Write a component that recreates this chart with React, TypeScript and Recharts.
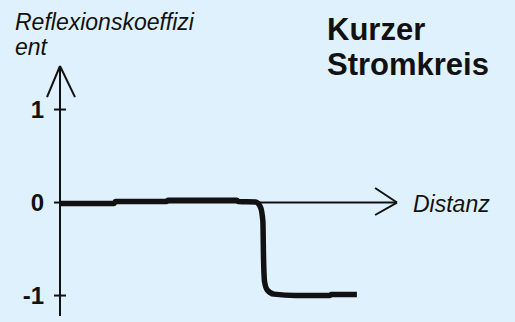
import { LineChart, Line, XAxis, YAxis, ReferenceLine } from "recharts";

const BG = "#dff1fc";
const INK = "#111111";
const FONT = '"Liberation Sans", Arial, sans-serif';

// distance (arbitrary units, 0..10) vs reflection coefficient
const distanz = [0, 1.6, 1.65, 3.15, 3.2, 5.25, 5.3, 5.8, 5.95, 6.02, 6.04, 6.07, 6.15, 6.35, 7.0, 8.0, 8.05, 8.81];
const reflexion = [-0.01, -0.01, 0.01, 0.01, 0.025, 0.025, 0.01, 0.005, -0.05, -0.2, -0.6, -0.85, -0.94, -0.985, -1.0, -1.0, -0.99, -0.99];
const yTicks = [-1, 0, 1];

// arrow heads, in data units
const yArrow = { tipX: 0, tipY: 1.468, leftX: -0.386, rightX: 0.445, armY: 1.134 };
const xArrow = { tipX: 10, tipY: 0, armX: 9.35, upY: 0.156, downY: -0.134 };

const data = distanz.map((d, i) => ({ d, r: reflexion[i] }));

function YTick(props: any) {
  const { x, y, payload } = props;
  return (
    <g>
      <line x1={x - 6} x2={x + 6} y1={y} y2={y} stroke={INK} strokeWidth={2} />
      <text x={x - 16} y={y + 8.5} textAnchor="end" fontFamily={FONT} fontWeight={700} fontSize={24} fill={INK}>
        {payload.value}
      </text>
    </g>
  );
}

export default function App() {
  return (
    <div style={{ position: "absolute", left: 0, top: 0, width: 515, height: 322, background: BG, overflow: "hidden" }}>
      <LineChart width={515} height={322} data={data} margin={{ top: 66, right: 118, bottom: 6, left: 10 }}>
        <XAxis dataKey="d" type="number" domain={[0, 10]} hide />
        <YAxis
          type="number"
          domain={[-1.22, 1.468]}
          ticks={yTicks}
          width={50}
          axisLine={{ stroke: INK, strokeWidth: 2 }}
          tickLine={false}
          tickSize={0}
          tickMargin={0}
          tick={<YTick />}
          interval={0}
        />
        <ReferenceLine y={0} stroke={INK} strokeWidth={2} />
        <ReferenceLine ifOverflow="visible" stroke={INK} strokeWidth={2}
          segment={[{ x: yArrow.leftX, y: yArrow.armY }, { x: yArrow.tipX, y: yArrow.tipY }]} />
        <ReferenceLine ifOverflow="visible" stroke={INK} strokeWidth={2}
          segment={[{ x: yArrow.rightX, y: yArrow.armY }, { x: yArrow.tipX, y: yArrow.tipY }]} />
        <ReferenceLine ifOverflow="visible" stroke={INK} strokeWidth={2}
          segment={[{ x: xArrow.armX, y: xArrow.upY }, { x: xArrow.tipX, y: xArrow.tipY }]} />
        <ReferenceLine ifOverflow="visible" stroke={INK} strokeWidth={2}
          segment={[{ x: xArrow.armX, y: xArrow.downY }, { x: xArrow.tipX, y: xArrow.tipY }]} />
        <Line
          type="monotone"
          dataKey="r"
          stroke={INK}
          strokeWidth={5.5}
          strokeLinejoin="round"
          dot={false}
          isAnimationActive={false}
        />
      </LineChart>
      <svg width={515} height={322} style={{ position: "absolute", left: 0, top: 0, pointerEvents: "none" }}>
        <g fontFamily={FONT} fill={INK}>
          <text x={15} y={30} fontSize={23} fontStyle="italic">Reflexionskoeffizi</text>
          <text x={15} y={55} fontSize={23} fontStyle="italic">ent</text>
          <text x={327} y={40} fontSize={31} fontWeight={700}>Kurzer</text>
          <text x={327} y={75} fontSize={31} fontWeight={700}>Stromkreis</text>
          <text x={413} y={212} fontSize={23} fontStyle="italic">Distanz</text>
        </g>
      </svg>
    </div>
  );
}
